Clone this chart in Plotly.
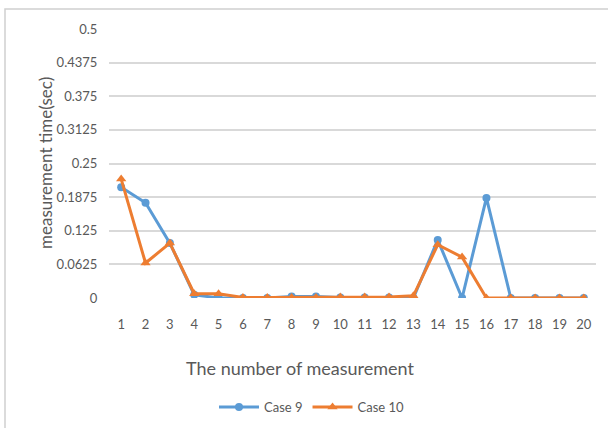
import plotly.graph_objects as go

measurements = [str(i) for i in range(1, 21)]
case9 = [0.206, 0.177, 0.102, 0.006, 0.0, 0.0, 0.0, 0.003, 0.003, 0.001,
         0.001, 0.001, 0.0, 0.108, 0.0, 0.186, 0.0, 0.0, 0.0, 0.0]
case10 = [0.221, 0.065, 0.102, 0.008, 0.008, 0.001, 0.001, 0.001, 0.001, 0.002,
          0.002, 0.002, 0.004, 0.099, 0.076, 0.0, 0.0, 0.0, 0.0, 0.0]
y_ticks = [0, 0.0625, 0.125, 0.1875, 0.25, 0.3125, 0.375, 0.4375, 0.5]
y_tick_text = ["0", "0.0625", "0.125", "0.1875", "0.25", "0.3125", "0.375", "0.4375", "0.5"]

blue = "#5B9BD5"
orange = "#ED7D31"
grey_text = "#595959"
font_family = "Lato, Open Sans, sans-serif"

fig = go.Figure()
fig.add_trace(go.Scatter(
    x=measurements, y=case9, name="Case 9", mode="lines+markers",
    line=dict(color=blue, width=3),
    marker=dict(symbol="circle", size=8, color=blue),
))
fig.add_trace(go.Scatter(
    x=measurements, y=case10, name="Case 10", mode="lines+markers",
    line=dict(color=orange, width=3),
    marker=dict(symbol="triangle-up", size=9, color=orange),
))

W, H = 608, 428
ml, mr, mt, mb = 109, 12, 29, 130
pw, ph = W - ml - mr, H - mt - mb


def px_x(p):
    return (p - ml) / pw


def px_y(p):
    return (H - mb - p) / ph


# outer chart-area border
fig.add_shape(
    type="rect", xref="paper", yref="paper",
    x0=px_x(5), x1=px_x(W + 5), y0=px_y(H + 5), y1=px_y(9),
    line=dict(color="#D0D0D0", width=1.5), fillcolor="rgba(0,0,0,0)", layer="above",
)

fig.add_annotation(
    text="The number of measurement", xref="paper", yref="paper",
    x=px_x(300), y=px_y(368), xanchor="center", yanchor="middle", showarrow=False,
    font=dict(size=18, color=grey_text, family=font_family),
)
fig.add_annotation(
    text="measurement time(sec)", xref="paper", yref="paper",
    x=px_x(45), y=px_y(163), xanchor="center", yanchor="middle",
    showarrow=False, textangle=-90,
    font=dict(size=17, color=grey_text, family=font_family),
)

fig.update_layout(
    width=W, height=H,
    margin=dict(l=ml, r=mr, t=mt, b=mb, autoexpand=False),
    paper_bgcolor="white", plot_bgcolor="white",
    font=dict(family=font_family, color=grey_text, size=13),
    xaxis=dict(
        type="category", range=[-0.5, len(measurements) - 0.5],
        showgrid=False, zeroline=False, showline=False,
        ticks="outside", ticklen=14, tickcolor="white",
        tickfont=dict(size=13, color=grey_text), automargin=False,
    ),
    yaxis=dict(
        range=[0, 0.5], tickvals=y_ticks, ticktext=y_tick_text,
        showgrid=True, gridcolor="#D9D9D9", gridwidth=1.5, zeroline=False,
        showline=False, ticks="outside", ticklen=8, tickcolor="white",
        tickfont=dict(size=13, color=grey_text), automargin=False,
    ),
    legend=dict(
        orientation="h", x=px_x(312), xanchor="center", y=px_y(407), yanchor="middle",
        font=dict(size=13, color=grey_text), itemwidth=40,
    ),
    showlegend=True,
)

fig.write_html("out.html")
